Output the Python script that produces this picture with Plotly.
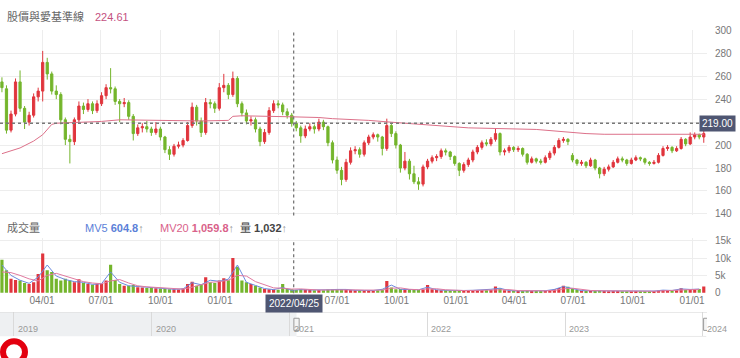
import pandas as pd
import plotly.graph_objects as go

# ---------------- data (weekly candles) ----------------
start_week = "2021-01-29"
n_weeks = 156

opens = [255, 249, 213, 227, 255, 232, 220, 226, 242, 247,
         272, 262, 247, 244, 222, 205, 203, 222, 234, 231,
         236, 230, 236, 243, 250, 249, 238, 236, 237, 225,
         210, 215, 216, 214, 211, 214, 207, 196, 192, 199,
         200, 204, 217, 233, 221, 211, 237, 236, 232, 250,
         252, 244, 258, 236, 228, 221, 222, 214, 203, 211,
         230, 236, 235, 229, 226, 219, 215, 208, 214, 216,
         214, 220, 216, 202, 187, 178, 170, 185, 195, 196,
         192, 202, 207, 209, 207, 197, 217, 210, 200, 180,
         186, 175, 168, 166, 181, 186, 189, 190, 195, 194,
         190, 184, 178, 183, 187, 194, 198, 202, 201, 205,
         210, 194, 195, 198, 196, 197, 192, 185, 188, 186,
         185, 189, 193, 198, 204, 205, 191, 187, 184, 185,
         182, 187, 180, 175, 179, 181, 185, 188, 187, 184,
         187, 189, 188, 185, 184, 185, 191, 197, 198, 195,
         197, 205, 201, 207, 209, 207]
highs = [259, 252, 230, 258, 265, 234, 229, 245, 250, 282,
         276, 264, 252, 246, 224, 209, 224, 238, 237, 240,
         238, 239, 246, 253, 267, 251, 240, 241, 239, 227,
         218, 219, 221, 216, 220, 216, 208, 199, 201, 203,
         206, 220, 237, 235, 224, 241, 240, 238, 254, 262,
         254, 264, 260, 238, 231, 225, 224, 216, 214, 233,
         239, 239, 237, 232, 228, 221, 217, 217, 219, 218,
         223, 222, 217, 204, 190, 181, 188, 198, 199, 198,
         204, 209, 211, 210, 208, 223, 219, 212, 201, 194,
         188, 182, 172, 183, 188, 191, 192, 197, 197, 195,
         191, 185, 185, 189, 196, 200, 204, 205, 207, 214,
         211, 197, 200, 199, 199, 198, 193, 190, 189, 188,
         191, 195, 200, 206, 207, 206, 193, 188, 187, 186,
         189, 188, 181, 181, 183, 187, 190, 190, 188, 189,
         191, 190, 189, 186, 187, 193, 199, 200, 199, 199,
         207, 206, 211, 211, 210, 215]
lows = [246, 210, 211, 225, 229, 214, 217, 224, 238, 238,
        257, 244, 240, 218, 200, 184, 200, 220, 227, 229,
        227, 228, 234, 240, 245, 235, 220, 233, 222, 204,
        208, 211, 211, 208, 209, 204, 193, 187, 190, 197,
        198, 203, 215, 217, 207, 209, 232, 228, 230, 246,
        240, 242, 233, 225, 218, 217, 211, 199, 201, 209,
        228, 232, 226, 223, 216, 212, 202, 206, 212, 210,
        212, 213, 199, 184, 175, 165, 168, 183, 192, 189,
        190, 200, 205, 203, 191, 195, 207, 197, 176, 178,
        170, 166, 161, 164, 179, 184, 186, 188, 191, 187,
        182, 173, 176, 181, 185, 192, 196, 199, 199, 203,
        191, 191, 193, 194, 194, 190, 183, 184, 184, 183,
        184, 187, 191, 197, 202, 200, 185, 182, 182, 180,
        181, 178, 171, 173, 177, 180, 184, 185, 182, 183,
        186, 186, 183, 182, 183, 184, 190, 195, 193, 194,
        196, 199, 200, 205, 205, 202]
closes = [250, 213, 227, 255, 232, 220, 226, 242, 247, 272,
          262, 247, 244, 222, 205, 203, 222, 234, 231, 236,
          230, 236, 243, 250, 249, 238, 236, 237, 225, 210,
          215, 216, 214, 211, 214, 207, 196, 192, 199, 200,
          204, 217, 233, 221, 211, 237, 236, 232, 250, 252,
          244, 258, 236, 228, 221, 222, 214, 203, 211, 230,
          236, 235, 229, 226, 219, 215, 208, 214, 216, 214,
          220, 216, 202, 187, 178, 170, 185, 195, 196, 192,
          202, 207, 209, 207, 197, 217, 210, 200, 180, 186,
          175, 168, 166, 181, 186, 189, 190, 195, 194, 190,
          184, 178, 183, 187, 194, 198, 202, 201, 205, 210,
          194, 195, 198, 196, 197, 192, 185, 188, 186, 185,
          189, 193, 198, 204, 205, 203, 187, 184, 185, 182,
          187, 180, 175, 179, 181, 185, 188, 187, 184, 187,
          189, 188, 185, 184, 185, 191, 197, 198, 195, 197,
          205, 201, 207, 209, 207, 210]
volumes = [9500, 6500, 4000, 3700, 3500, 2800, 2500, 3000, 5400, 11300,
           6500, 6000, 4000, 3500, 4000, 3500, 3000, 3900, 2800, 2500,
           2300, 2600, 2500, 3500, 8100, 3700, 2500, 2000, 2000, 2200,
           1600, 1500, 1400, 1500, 1300, 1200, 1100, 1000, 1000, 900,
           1200, 2500, 3200, 2000, 2400, 4500, 3000, 2800, 3500, 4200,
           3600, 10000, 7500, 3500, 3000, 2500, 2000, 1500, 1100, 1000,
           900, 850, 2500, 1100, 1000, 800, 1000, 900, 800, 700,
           800, 700, 900, 1000, 900, 1100, 900, 800, 700, 700,
           800, 700, 600, 700, 900, 3400, 1500, 1000, 1100, 900,
           800, 900, 800, 900, 2200, 1000, 800, 700, 700, 600,
           600, 700, 600, 600, 700, 700, 800, 700, 800, 1800,
           1200, 700, 600, 600, 500, 500, 600, 500, 500, 500,
           600, 800, 1000, 1400, 2000, 1700, 1200, 800, 600, 500,
           600, 500, 600, 500, 400, 500, 500, 400, 400, 400,
           500, 400, 400, 400, 500, 600, 800, 700, 600, 700,
           1300, 800, 1000, 900, 1100, 1800]

# volume moving averages, read every second week
mv5 = [8000, 5000, 3600, 2700, 4500, 8000, 4800, 3800, 3200, 3000,
       2400, 2600, 6000, 3000, 2000, 1800, 1450, 1350, 1100, 1000,
       1100, 2900, 2300, 3600, 3300, 3900, 8000, 3000, 2100, 1200,
       900, 1500, 700, 900, 800, 750, 850, 950, 950, 700,
       750, 650, 1000, 2200, 1000, 850, 850, 1600, 850, 700,
       600, 650, 700, 750, 1000, 1300, 620, 520, 550, 500,
       580, 950, 1800, 1200, 620, 560, 560, 450, 480, 400,
       460, 400, 480, 750, 650, 1100, 950, 1050]
mv20 = [6000, 5800, 5000, 4000, 3400, 5000, 5600, 4800, 3800, 3200,
        2800, 2600, 3400, 3800, 2800, 2000, 1700, 1500, 1300, 1100,
        1050, 1600, 2300, 3000, 3200, 3600, 5000, 4800, 3200, 2200,
        1400, 1300, 1060, 1100, 900, 780, 800, 880, 900, 820,
        760, 700, 760, 1300, 1400, 1000, 870, 1100, 1150, 850,
        680, 640, 660, 720, 800, 1050, 900, 620, 560, 530,
        540, 680, 1100, 1300, 1000, 650, 570, 520, 480, 450,
        440, 440, 440, 560, 660, 800, 900, 1000]

# long-term base line (pink)
base_dates = ["2021-01-29", "2021-02-26", "2021-03-19", "2021-04-02", "2021-04-16",
              "2021-04-23", "2021-07-02", "2021-07-30", "2021-12-03", "2022-01-14",
              "2022-01-21", "2022-02-04", "2022-04-22", "2022-06-03", "2022-06-24",
              "2022-08-19", "2022-10-14", "2023-01-20", "2023-05-05", "2023-07-21",
              "2023-08-18", "2024-01-19"]
base_vals = [192.5, 197.5, 203.5, 209, 218, 219, 220.6, 222, 221, 221.5,
             225, 225.5, 224.6, 224, 223, 221.5, 219, 215, 213.6, 210,
             209.4, 209.4]

tick_dates = ["2021-04-01", "2021-07-01", "2021-10-01", "2022-01-01", "2022-04-01",
              "2022-07-01", "2022-10-01", "2023-01-01", "2023-04-01", "2023-07-01",
              "2023-10-01", "2024-01-01"]
# the 2022 "04/01" label is hidden under the crosshair date box in the reference
tick_labels = ["04/01", "07/01", "10/01", "01/01", "", "07/01", "10/01",
               "01/01", "04/01", "07/01", "10/01", "01/01"]
price_ticks = [140, 160, 180, 200, 220, 240, 260, 280, 300]
price_tick_labels = ["140", "160", "180", "200", "", "240", "260", "280", "300"]
vol_ticks = [0, 5000, 10000, 15000]
vol_tick_labels = ["0", "5k", "10k", "15k"]

cross_date = "2022-04-25"
cross_label = "2022/04/25"
cross_price = 219.00
title_text = "股價與愛基準線"
title_value = "224.61"

nav_years = ["2019-01-01", "2020-01-01", "2021-01-01", "2022-01-01", "2023-01-01", "2024-01-01"]
nav_year_labels = ["2019", "2020", "2021", "2022", "2023", "2024"]
nav_range = ["2018-11-25", "2024-01-12"]
nav_sel = ["2021-01-19", "2024-01-10"]

# ---------------- figure ----------------
RED = "#e0353d"
GREEN = "#74b52c"
FONT = "Arial, 'Liberation Sans', 'Noto Sans CJK TC', sans-serif"

dates = pd.date_range(start_week, periods=n_weeks, freq="7D")
mv_dates = list(dates[::2])
bar_colors = [RED if c >= o else GREEN for o, c in zip(opens, closes)]

fig = go.Figure()
fig.add_trace(go.Candlestick(
    x=dates, open=opens, high=highs, low=lows, close=closes,
    increasing=dict(line=dict(color=RED, width=1), fillcolor=RED),
    decreasing=dict(line=dict(color=GREEN, width=1), fillcolor=GREEN),
    whiskerwidth=0, xaxis="x", yaxis="y", hoverinfo="skip"))
fig.add_trace(go.Scatter(x=base_dates, y=base_vals, mode="lines",
                         line=dict(color="#dc7089", width=1), xaxis="x", yaxis="y",
                         hoverinfo="skip"))
fig.add_trace(go.Bar(x=dates, y=volumes, marker=dict(color=bar_colors, line=dict(width=0)),
                     xaxis="x2", yaxis="y2", hoverinfo="skip"))
fig.add_trace(go.Scatter(x=mv_dates, y=mv5, mode="lines", line=dict(color="#6a8ade", width=1),
                         xaxis="x2", yaxis="y2", hoverinfo="skip"))
fig.add_trace(go.Scatter(x=mv_dates, y=mv20, mode="lines", line=dict(color="#e07aa0", width=1),
                         xaxis="x2", yaxis="y2", hoverinfo="skip"))
fig.add_trace(go.Scatter(x=[nav_range[0]], y=[0.5], mode="markers", opacity=0,
                         xaxis="x3", yaxis="y3", hoverinfo="skip"))

W, H = 740, 358
R_MARGIN = 33
PW = W - R_MARGIN


def py(p):
    return 1 - p / H


x_range = ["2021-01-26", "2024-01-24"]
axis_common = dict(range=x_range, type="date", showgrid=True, gridcolor="#ededed",
                   gridwidth=1, tickvals=tick_dates, ticktext=tick_labels,
                   zeroline=False, showline=False, ticks="", fixedrange=True)

fig.update_layout(
    width=W, height=H, margin=dict(l=0, r=R_MARGIN, t=0, b=0),
    paper_bgcolor="white", plot_bgcolor="white", showlegend=False,
    hovermode=False, bargap=0.3,
    font=dict(family=FONT, size=10, color="#666"),
    xaxis=dict(**axis_common, anchor="y", showticklabels=False,
               rangeslider=dict(visible=False)),
    yaxis=dict(domain=[py(216.5), py(25.5)], range=[138.7, 300.4], side="right",
               tickvals=price_ticks, ticktext=price_tick_labels, showgrid=True,
               gridcolor="#ededed", zeroline=False, ticks="", ticklabelstandoff=7,
               tickfont=dict(size=10, color="#777"), fixedrange=True),
    xaxis2=dict(**axis_common, anchor="y2", showticklabels=True, matches="x",
                tickfont=dict(size=10, color="#777")),
    yaxis2=dict(domain=[py(296.5), py(240)], range=[-140, 15700], side="right",
                tickvals=vol_ticks, ticktext=vol_tick_labels, showgrid=True,
                gridcolor="#ededed", zeroline=False, ticks="", ticklabelstandoff=7,
                tickfont=dict(size=10, color="#777"), fixedrange=True),
    xaxis3=dict(domain=[0, 1], anchor="y3", range=nav_range, type="date",
                showgrid=True, gridcolor="#dadada", tick0="2019-01-01", dtick="M12",
                showticklabels=False, zeroline=False, ticks="", fixedrange=True),
    yaxis3=dict(domain=[py(341), py(316)], range=[0, 1], showgrid=False,
                showticklabels=False, zeroline=False, ticks="", fixedrange=True),
)

shapes = []
# navigator background and borders
shapes.append(dict(type="rect", xref="x3", yref="y3", x0=nav_range[0], x1=nav_sel[0],
                   y0=0, y1=1, fillcolor="#eef0f2", line=dict(width=0), layer="below"))
shapes.append(dict(type="line", xref="paper", yref="y3", x0=0, x1=1, y0=1, y1=1,
                   line=dict(color="#d4d4d4", width=1)))
shapes.append(dict(type="line", xref="x3", yref="y3", x0=nav_sel[0], x1=nav_sel[1], y0=0, y1=0,
                   line=dict(color="#d4d4d4", width=1)))
for hd in nav_sel:
    t = pd.Timestamp(hd)
    shapes.append(dict(type="rect", xref="x3", yref="y3",
                       x0=t - pd.Timedelta(days=7), x1=t + pd.Timedelta(days=7),
                       y0=0.25, y1=0.75, fillcolor="#f4f4f4",
                       line=dict(color="#9a9a9a", width=1)))
# crosshair
shapes.append(dict(type="line", xref="x", yref="y domain", x0=cross_date, x1=cross_date,
                   y0=0, y1=1, line=dict(color="#777", width=1.3, dash="dot")))
shapes.append(dict(type="line", xref="x2", yref="y2 domain", x0=cross_date, x1=cross_date,
                   y0=0, y1=0.95, line=dict(color="#777", width=1.3, dash="dot")))
shapes.append(dict(type="line", xref="x domain", yref="y", x0=0, x1=1,
                   y0=cross_price, y1=cross_price, line=dict(color="#777", width=1.3, dash="dot")))
# red ring at the bottom-left corner
shapes.append(dict(type="circle", xref="paper", yref="paper",
                   x0=3 / PW, x1=25 / PW, y0=py(368), y1=py(346),
                   line=dict(color="#e3000f", width=6)))
fig.update_layout(shapes=shapes)

ann = []
ann.append(dict(xref="paper", yref="paper", x=5 / PW, y=py(12), xanchor="left", yanchor="middle",
                text=title_text, showarrow=False, font=dict(size=11, color="#666")))
ann.append(dict(xref="paper", yref="paper", x=93 / PW, y=py(12), xanchor="left", yanchor="middle",
                text=title_value, showarrow=False, font=dict(size=11, color="#c4517f")))
ann.append(dict(xref="paper", yref="paper", x=5 / PW, y=py(229), xanchor="left", yanchor="middle",
                text="成交量", showarrow=False, font=dict(size=11, color="#666")))
ann.append(dict(xref="paper", yref="paper", x=83 / PW, y=py(229), xanchor="left", yanchor="middle",
                text="MV5 <b>604.8</b><span style='color:#999'>↑</span>", showarrow=False,
                font=dict(size=11, color="#5b7fd8")))
ann.append(dict(xref="paper", yref="paper", x=158 / PW, y=py(229), xanchor="left", yanchor="middle",
                text="MV20 <b>1,059.8</b><span style='color:#999'>↑</span>", showarrow=False,
                font=dict(size=11, color="#d9628a")))
ann.append(dict(xref="paper", yref="paper", x=238 / PW, y=py(229), xanchor="left", yanchor="middle",
                text="量 <b>1,032</b><span style='color:#999'>↑</span>", showarrow=False,
                font=dict(size=11, color="#444")))
# crosshair labels
ann.append(dict(xref="paper", yref="y", x=717 / PW, y=cross_price, xanchor="center",
                yanchor="middle", text=f"{cross_price:.2f}", showarrow=False,
                bgcolor="#4f5672", borderpad=2, font=dict(size=10, color="white")))
ann.append(dict(xref="x2", yref="paper", x=cross_date, y=py(307), xanchor="center",
                yanchor="middle", text=cross_label, showarrow=False,
                bgcolor="#4f5672", borderpad=3, font=dict(size=10, color="white")))
# navigator year labels
for d, lab in zip(nav_years, nav_year_labels):
    ann.append(dict(xref="x3", yref="y3", x=d, y=0.3, xanchor="left", yanchor="middle",
                    xshift=2, text=lab, showarrow=False, font=dict(size=9, color="#999")))
fig.update_layout(annotations=ann)

fig.write_html("out.html", config={"displayModeBar": False},
               post_script="document.body.style.margin='0';document.body.style.overflow='hidden';")
